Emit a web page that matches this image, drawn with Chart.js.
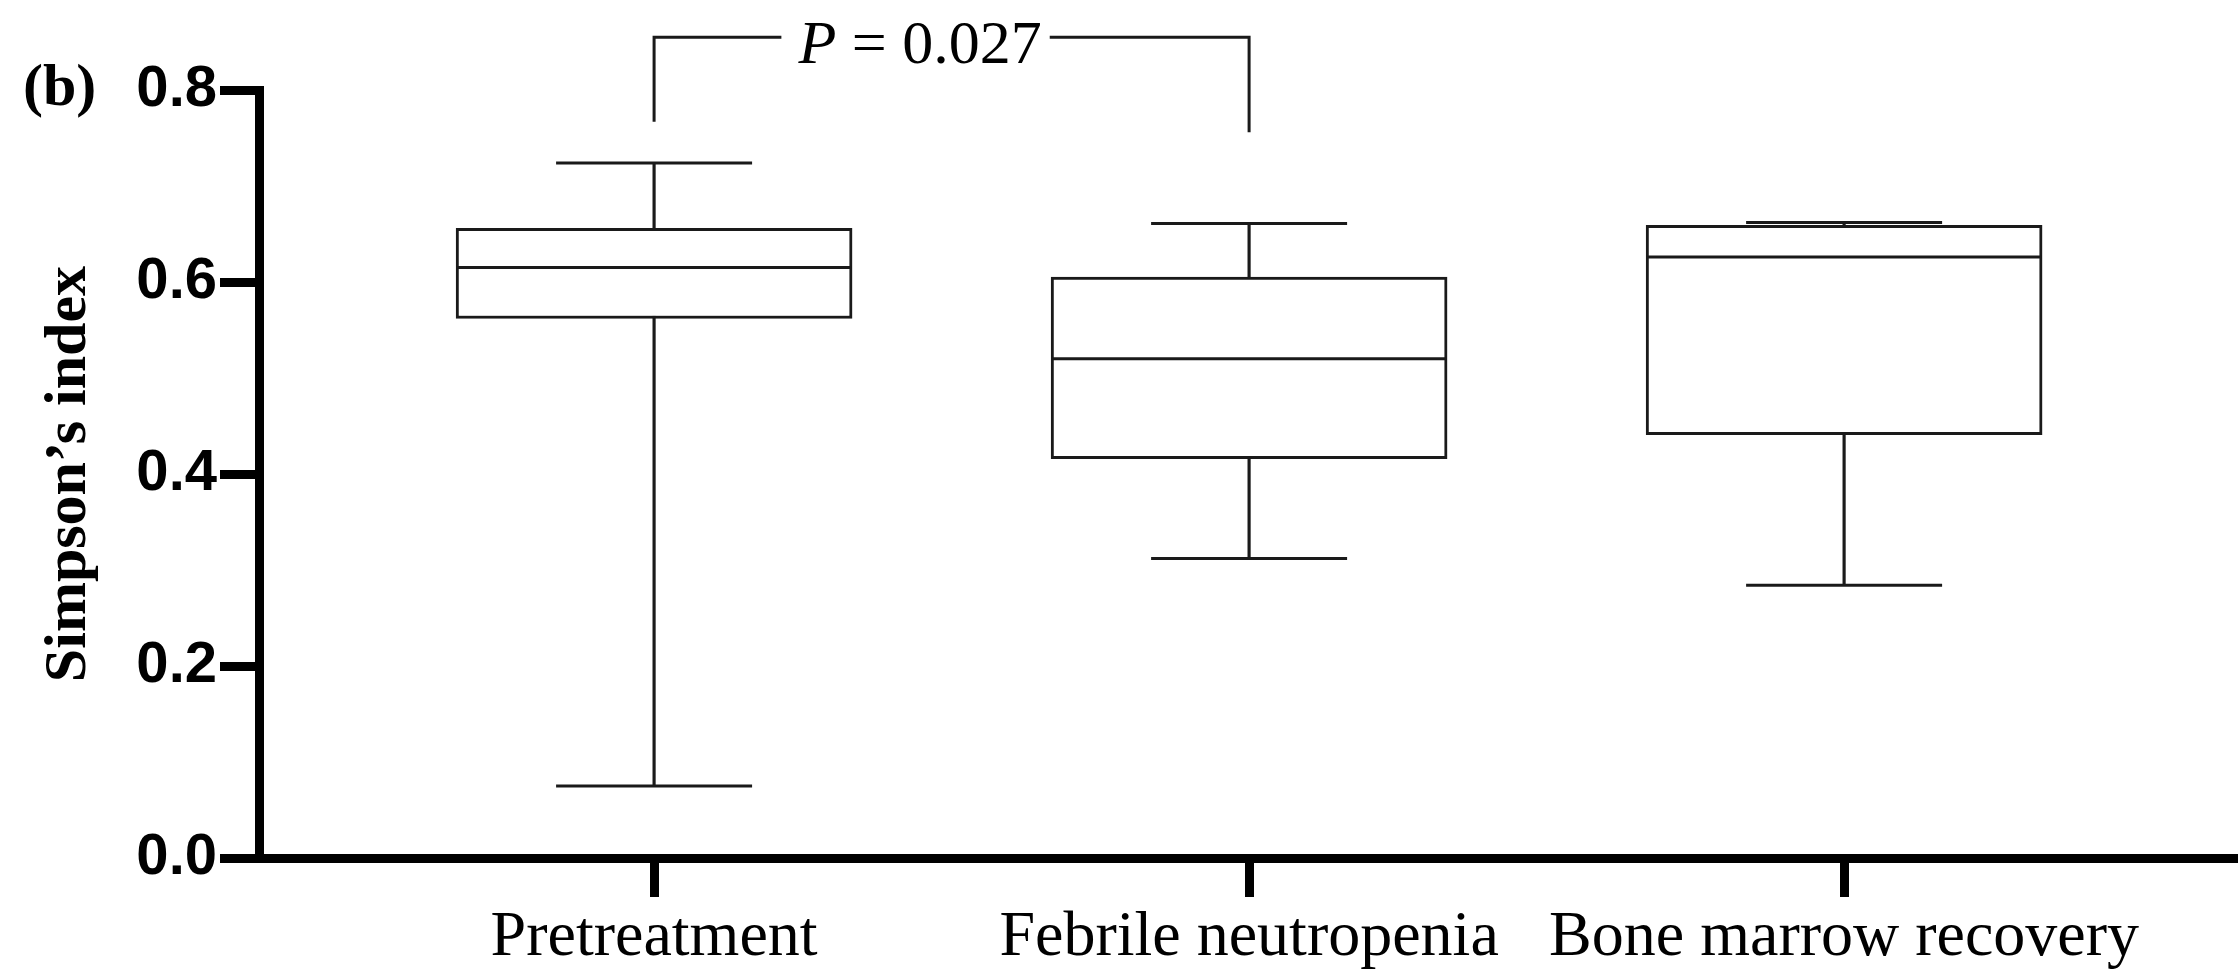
<!DOCTYPE html>
<html>
<head>
<meta charset="utf-8">
<script src="https://cdn.jsdelivr.net/npm/chart.js@4.4.1/dist/chart.umd.min.js"></script>
<style>
  html, body { margin: 0; padding: 0; background: #fff; }
</style>
</head>
<body>
<canvas id="simpson" width="2238" height="973"></canvas>
<script>
const groups = ["Pretreatment", "Febrile neutropenia", "Bone marrow recovery"];
const whiskerMin = [0.075, 0.312, 0.284];
const boxQ1 = [0.562, 0.416, 0.441];
const boxMedian = [0.615, 0.520, 0.626];
const boxQ3 = [0.656, 0.605, 0.659];
const whiskerMax = [0.724, 0.661, 0.662];
const yTicks = [0, 0.2, 0.4, 0.6, 0.8];
const pPair = [0, 1];
const pValue = "0.027";

const ink = "#1a1a1a";

// significance bracket + panel letter, drawn on top of the chart
const annotations = {
  id: "annotations",
  afterDraw(chart) {
    const { ctx, scales: { x, y } } = chart;
    const xa = x.getPixelForValue(pPair[0]);
    const xb = x.getPixelForValue(pPair[1]);
    const yTop = y.getPixelForValue(0.855);
    const yLeft = y.getPixelForValue(0.767);
    const yRight = y.getPixelForValue(0.756);

    ctx.save();
    ctx.font = "italic 62px 'Liberation Serif'";
    const wP = ctx.measureText("P").width;
    ctx.font = "62px 'Liberation Serif'";
    const rest = " = " + pValue;
    const wRest = ctx.measureText(rest).width;
    const textLeft = xa + (xb - xa) * 0.447 - (wP + wRest) / 2;
    const textRight = textLeft + wP + wRest;

    ctx.strokeStyle = ink;
    ctx.lineWidth = 3;
    ctx.beginPath();
    ctx.moveTo(xa, yLeft);
    ctx.lineTo(xa, yTop);
    ctx.lineTo(textLeft - 17, yTop);
    ctx.moveTo(textRight + 8, yTop);
    ctx.lineTo(xb, yTop);
    ctx.lineTo(xb, yRight);
    ctx.stroke();

    ctx.fillStyle = "#000";
    ctx.textBaseline = "alphabetic";
    ctx.textAlign = "left";
    ctx.font = "italic 62px 'Liberation Serif'";
    ctx.fillText("P", textLeft, yTop + 26);
    ctx.font = "62px 'Liberation Serif'";
    ctx.fillText(rest, textLeft + wP, yTop + 26);

    ctx.font = "bold 60px 'Liberation Serif'";
    ctx.fillText("(b)", 23, 105);
    ctx.restore();
  }
};

const data = {
  datasets: [
    {
      type: "bar",
      label: "whiskers",
      data: groups.map((g, i) => ({ x: i, y: [whiskerMin[i], whiskerMax[i]] })),
      backgroundColor: ink,
      borderWidth: 0,
      barThickness: 2.5,
      grouped: false,
      order: 3,
    },
    {
      type: "bar",
      label: "box",
      data: groups.map((g, i) => ({ x: i, y: [boxQ1[i], boxQ3[i]] })),
      backgroundColor: "#fff",
      borderColor: ink,
      borderWidth: 3,
      borderSkipped: false,
      barThickness: 396,
      grouped: false,
      order: 2,
    },
    {
      type: "scatter",
      label: "median",
      data: groups.map((g, i) => ({ x: i, y: boxMedian[i] })),
      pointStyle: "line",
      pointRadius: 197,
      borderColor: ink,
      borderWidth: 3,
      order: 1,
    },
    {
      type: "scatter",
      label: "caps",
      data: groups.map((g, i) => ({ x: i, y: whiskerMax[i] }))
        .concat(groups.map((g, i) => ({ x: i, y: whiskerMin[i] }))),
      pointStyle: "line",
      pointRadius: 98,
      borderColor: ink,
      borderWidth: 3,
      order: 1,
    },
  ],
};

const options = {
  responsive: false,
  animation: false,
  events: [],
  layout: { autoPadding: false, padding: { top: 90, left: 0, right: 0, bottom: 0 } },
  plugins: {
    legend: { display: false },
    tooltip: { enabled: false },
  },
  scales: {
    x: {
      type: "linear",
      offset: false,
      min: -0.664,
      max: 2.662,
      afterBuildTicks: (axis) => { axis.ticks = groups.map((g, i) => ({ value: i })); },
      afterFit: (axis) => { axis.height = 115; },
      ticks: {
        callback: (v) => groups[v],
        color: "#000",
        font: { family: "'Liberation Serif'", size: 64 },
        padding: 3,
        maxRotation: 0,
        autoSkip: false,
      },
      grid: { offset: false, drawOnChartArea: false, drawTicks: true, tickLength: 39, tickWidth: 9, tickColor: "#000" },
      border: { display: true, color: "#000", width: 9 },
    },
    y: {
      min: 0,
      max: 0.8,
      afterBuildTicks: (axis) => { axis.ticks = yTicks.map((v) => ({ value: v })); },
      afterFit: (axis) => { axis.width = 259; },
      ticks: {
        callback: (v) => v.toFixed(1),
        color: "#000",
        font: { family: "'Liberation Sans'", weight: "bold", size: 58 },
        padding: 3,
      },
      grid: { drawOnChartArea: false, drawTicks: true, tickLength: 39, tickWidth: 9, tickColor: "#000" },
      border: { display: true, color: "#000", width: 9 },
      title: {
        display: true,
        text: "Simpson’s index",
        color: "#000",
        font: { family: "'Liberation Serif'", weight: "bold", size: 60 },
        padding: { top: 33, bottom: 0 },
      },
    },
  },
};

new Chart(document.getElementById("simpson").getContext("2d"), {
  type: "bar",
  data: data,
  options: options,
  plugins: [annotations],
});
</script>
</body>
</html>
